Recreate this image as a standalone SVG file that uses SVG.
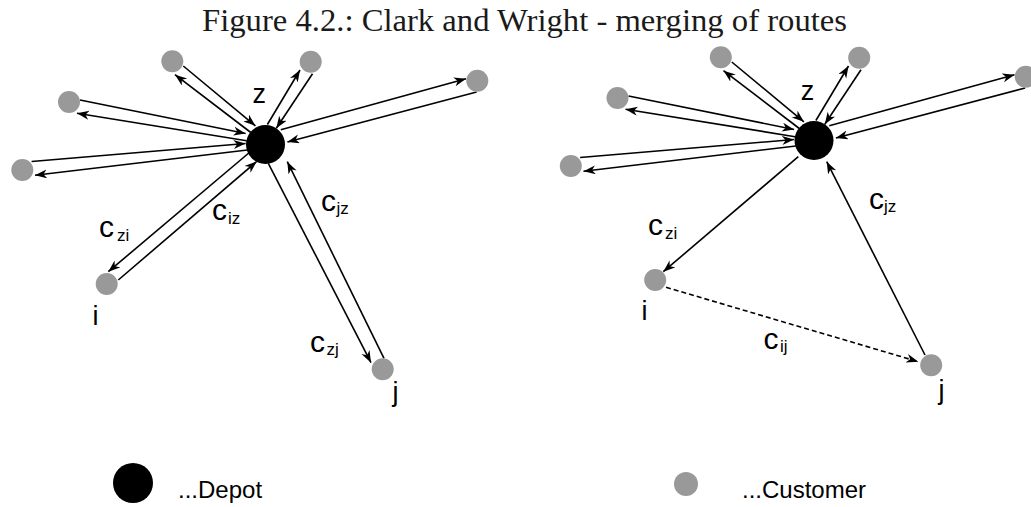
<svg xmlns="http://www.w3.org/2000/svg" width="1031" height="507" viewBox="0 0 1031 507">
<defs>
<style>
.cust{fill:#999999}
.depot{fill:#000000}
.ln{stroke:#000;stroke-width:1.6;fill:none;marker-end:url(#ah)}
.dash{stroke-dasharray:5 3}
.lbl{font-family:"Liberation Sans",Arial,sans-serif;font-size:27px;fill:#000}
.c{font-family:"Liberation Sans",Arial,sans-serif;font-size:30px;fill:#000}
.sub{font-family:"Liberation Sans",Arial,sans-serif;font-size:17px;fill:#000}
.leg{font-family:"Liberation Sans",Arial,sans-serif;font-size:24px;fill:#000}
.title{font-family:"Liberation Serif","Times New Roman",serif;font-size:32px;fill:#1a1a1a}
</style>
<marker id="ah" markerUnits="userSpaceOnUse" markerWidth="13" markerHeight="10" refX="12" refY="4.5" orient="auto">
<path d="M0,0 L12,4.5 L0,9 L3.5,4.5 Z" fill="#000"/>
</marker>
</defs>
<rect width="1031" height="507" fill="#fff"/>
<text class="title" x="202" y="31" textLength="645" lengthAdjust="spacingAndGlyphs">Figure 4.2.: Clark and Wright - merging of routes</text>

<!-- Left diagram -->
<g id="left">
<g id="connectors-left">
<line class="ln" x1="183.3" y1="66" x2="255.4" y2="125.8"/>
<line class="ln" x1="250.8" y1="132.5" x2="175" y2="74.7"/>
<line class="ln" x1="80" y1="100" x2="245.6" y2="133.5"/>
<line class="ln" x1="246.6" y1="140.7" x2="77" y2="113.3"/>
<line class="ln" x1="31.6" y1="161.5" x2="245.6" y2="143.5"/>
<line class="ln" x1="247.4" y1="150" x2="35" y2="175.3"/>
<line class="ln" x1="267.4" y1="124.5" x2="300" y2="70"/>
<line class="ln" x1="312.5" y1="73.7" x2="276.3" y2="128.2"/>
<line class="ln" x1="280.8" y1="129.7" x2="466" y2="78.7"/>
<line class="ln" x1="476.6" y1="92" x2="287.4" y2="142"/>
<line class="ln" x1="250" y1="152" x2="108.3" y2="271.7"/>
<line class="ln" x1="118.3" y1="280" x2="256.7" y2="161.5"/>
<line class="ln" x1="268.3" y1="163.3" x2="371" y2="362.7"/>
<line class="ln" x1="384" y1="358.3" x2="287.3" y2="161.7"/>
</g>
<g id="L-depot"><circle class="depot" cx="265.5" cy="144.5" r="19.5"/><text class="lbl" x="252.5" y="103">z</text></g>
<g id="L-A"><circle class="cust" cx="172.3" cy="61.3" r="11"/></g>
<g id="L-B"><circle class="cust" cx="69" cy="102" r="11"/></g>
<g id="L-C"><circle class="cust" cx="22.3" cy="170" r="11"/></g>
<g id="L-D"><circle class="cust" cx="310.7" cy="61.7" r="11"/></g>
<g id="L-E"><circle class="cust" cx="477.3" cy="80.7" r="11"/></g>
<g id="L-i"><circle class="cust" cx="106.7" cy="284" r="11"/><text class="lbl" x="92.5" y="325">i</text></g>
<g id="L-j"><circle class="cust" cx="382.7" cy="369.3" r="11"/><text class="lbl" x="392.5" y="401">j</text></g>
<g id="L-labels">
<text class="c" x="99" y="237">c</text><text class="sub" x="117" y="241">zi</text>
<text class="c" x="212" y="220">c</text><text class="sub" x="228" y="224">iz</text>
<text class="c" x="321" y="211">c</text><text class="sub" x="336.5" y="214">jz</text>
<text class="c" x="310" y="352">c</text><text class="sub" x="326.5" y="355">zj</text>
</g>
</g>

<!-- Right diagram -->
<g id="right" transform="translate(548.5,-4)">
<g id="connectors-right">
<line class="ln" x1="183.3" y1="66" x2="255.4" y2="125.8"/>
<line class="ln" x1="250.8" y1="132.5" x2="175" y2="74.7"/>
<line class="ln" x1="80" y1="100" x2="245.6" y2="133.5"/>
<line class="ln" x1="246.6" y1="140.7" x2="77" y2="113.3"/>
<line class="ln" x1="31.6" y1="161.5" x2="245.6" y2="143.5"/>
<line class="ln" x1="247.4" y1="150" x2="35" y2="175.3"/>
<line class="ln" x1="267.4" y1="124.5" x2="300" y2="70"/>
<line class="ln" x1="312.5" y1="73.7" x2="276.3" y2="128.2"/>
<line class="ln" x1="280.8" y1="129.7" x2="466" y2="78.7"/>
<line class="ln" x1="476.6" y1="92" x2="287.4" y2="142"/>
<line class="ln" x1="249.8" y1="160.7" x2="114.8" y2="275.7"/>
<line class="ln" x1="376.5" y1="359" x2="278.2" y2="165.7"/>
<line class="ln dash" x1="117.5" y1="291.3" x2="369.8" y2="365.7"/>
</g>
<g id="R-depot"><circle class="depot" cx="265.5" cy="144.5" r="19.5"/><text class="lbl" x="252.3" y="104">z</text></g>
<g id="R-A"><circle class="cust" cx="172.3" cy="61.3" r="11"/></g>
<g id="R-B"><circle class="cust" cx="69" cy="102" r="11"/></g>
<g id="R-C"><circle class="cust" cx="22.3" cy="170" r="11"/></g>
<g id="R-D"><circle class="cust" cx="310.7" cy="61.7" r="11"/></g>
<g id="R-E"><circle class="cust" cx="477.3" cy="80.7" r="11"/></g>
<g id="R-i"><circle class="cust" cx="106.7" cy="284" r="11"/><text class="lbl" x="93" y="324">i</text></g>
<g id="R-j"><circle class="cust" cx="382.7" cy="369.3" r="11"/><text class="lbl" x="390" y="402.5">j</text></g>
<g id="R-labels">
<text class="c" x="99.5" y="239">c</text><text class="sub" x="116.5" y="243">zi</text>
<text class="c" x="320.5" y="212.5">c</text><text class="sub" x="335.5" y="216">jz</text>
<text class="c" x="215" y="352.5">c</text><text class="sub" x="231.5" y="356">ij</text>
</g>
</g>

<!-- Legend -->
<g id="legend-depot"><circle class="depot" cx="133" cy="483" r="20"/><text class="leg" x="178" y="498">...Depot</text></g>
<g id="legend-customer"><circle class="cust" cx="686" cy="484" r="12"/><text class="leg" x="742" y="498">...Customer</text></g>
</svg>
